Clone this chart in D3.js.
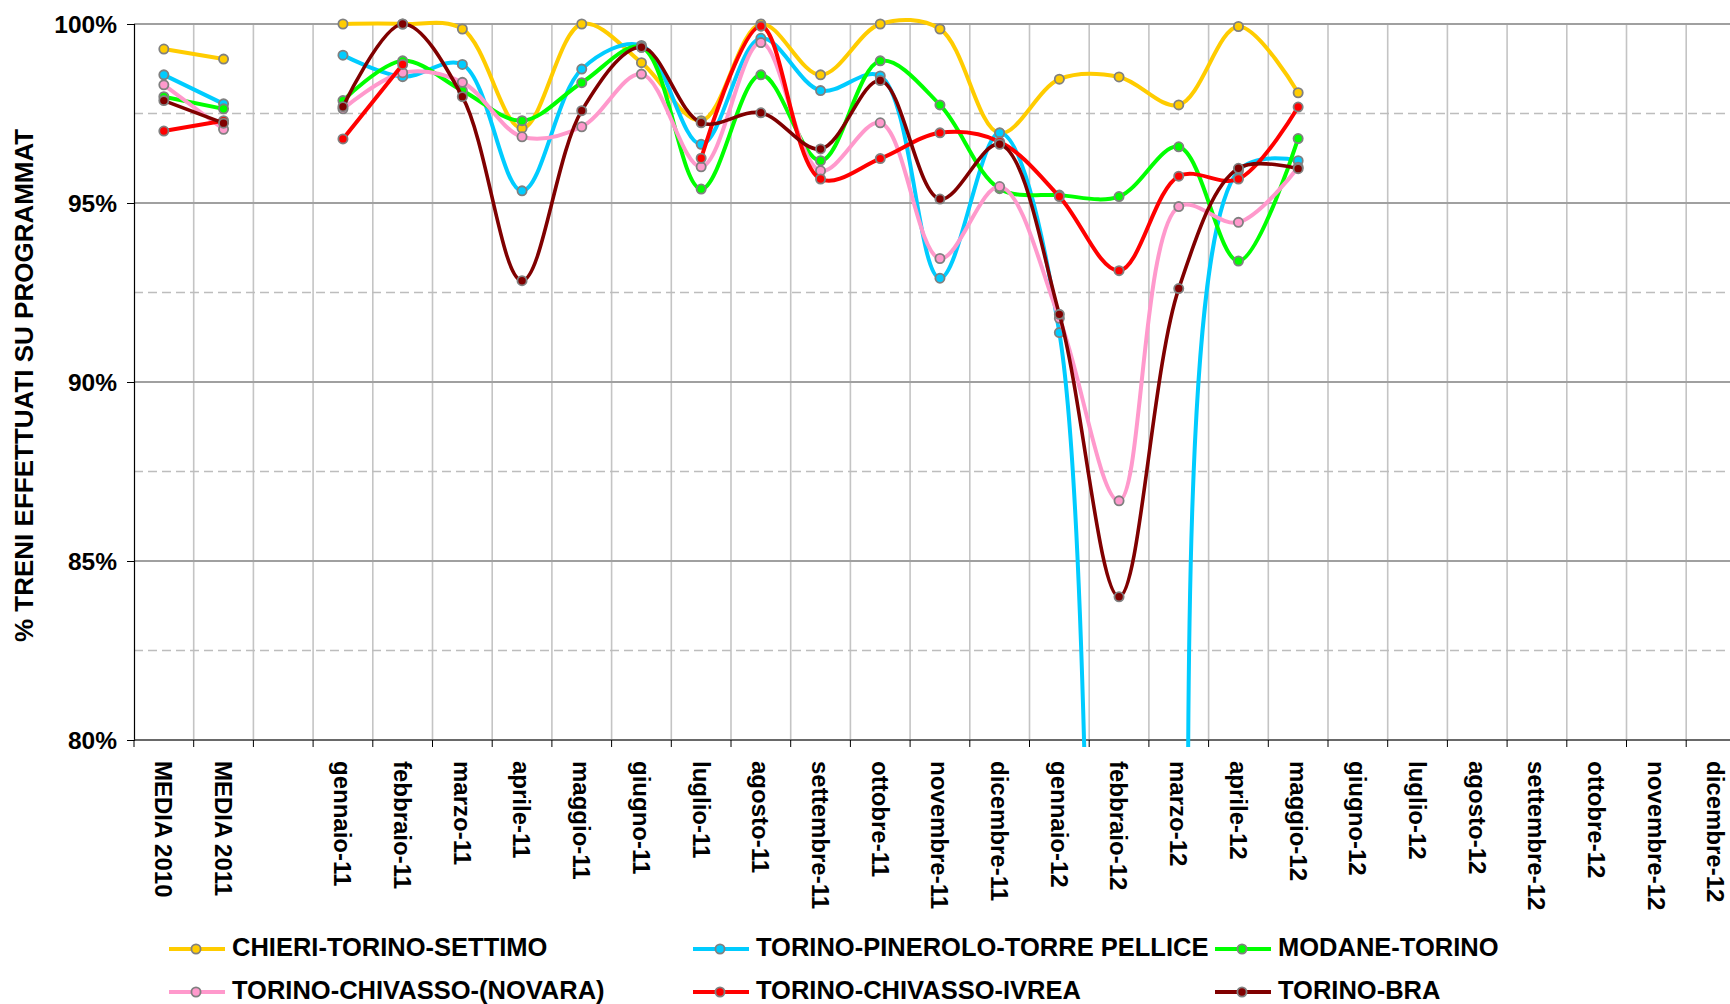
<!DOCTYPE html>
<html>
<head>
<meta charset="utf-8">
<script src="https://cdn.jsdelivr.net/npm/d3@7"></script>
<style>
  html, body { margin: 0; padding: 0; background: #ffffff; }
  svg { display: block; font-family: "Liberation Sans", Arial, sans-serif; }
</style>
</head>
<body>
<svg id="chart" width="1730" height="1004"></svg>
<script>
// ---------- DATA ----------
const categories = ["MEDIA 2010", "MEDIA 2011", "",
  "gennaio-11", "febbraio-11", "marzo-11", "aprile-11", "maggio-11", "giugno-11",
  "luglio-11", "agosto-11", "settembre-11", "ottobre-11", "novembre-11", "dicembre-11",
  "gennaio-12", "febbraio-12", "marzo-12", "aprile-12", "maggio-12", "giugno-12",
  "luglio-12", "agosto-12", "settembre-12", "ottobre-12", "novembre-12", "dicembre-12"];

const seriesNames = ["CHIERI-TORINO-SETTIMO", "TORINO-PINEROLO-TORRE PELLICE", "MODANE-TORINO",
  "TORINO-CHIVASSO-(NOVARA)", "TORINO-CHIVASSO-IVREA", "TORINO-BRA"];

const chieri = [99.30, 99.02, null, 100.0, 100.0, 99.86, 97.09, 100.0, 98.92, 97.30, 100.0, 98.58, 100.0, 99.86, 96.95, 98.46, 98.52, 97.74, 99.93, 98.08, null, null, null, null, null, null, null];
const pinerolo = [98.58, 97.77, null, 99.13, 98.53, 98.87, 95.34, 98.74, 99.40, 96.64, 99.60, 98.14, 98.55, 92.90, 96.96, 91.38, 40.0, 50.0, 95.9, 96.18, null, null, null, null, null, null, null];
const modane = [97.97, 97.63, null, 97.86, 98.97, 98.14, 97.30, 98.36, 99.35, 95.39, 98.58, 96.18, 98.97, 97.74, 95.40, 95.22, 95.18, 96.57, 93.38, 96.80, null, null, null, null, null, null, null];
const novara = [98.30, 97.06, null, 97.63, 98.64, 98.37, 96.85, 97.13, 98.60, 96.01, 99.48, 95.90, 97.24, 93.45, 95.46, 91.78, 86.68, 94.90, 94.46, 96.00, null, null, null, null, null, null, null];
const ivrea = [97.01, 97.30, null, 96.79, 98.87, null, null, null, null, 96.25, 99.94, 95.67, 96.24, 96.96, 96.71, 95.18, 93.11, 95.75, 95.67, 97.68, null, null, null, null, null, null, null];
const bra = [97.86, 97.23, null, 97.69, 100.0, 97.97, 92.83, 97.58, 99.35, 97.24, 97.52, 96.51, 98.42, 95.11, 96.64, 91.89, 84.0, 92.61, 95.97, 95.96, null, null, null, null, null, null, null];

const seriesValues = [chieri, pinerolo, modane, novara, ivrea, bra];
const seriesColors = ["#FFCC00", "#00CCFF", "#00FF00", "#FF99CC", "#FF0000", "#800000"];

const yMajorTicks = [80, 85, 90, 95, 100];
const yMinorTicks = [82.5, 87.5, 92.5, 97.5];
const yTitle = "% TRENI EFFETTUATI SU PROGRAMMAT";

// ---------- LAYOUT ----------
const svg = d3.select("#chart");
const plotLeft = 134, plotTop = 24, plotBottom = 740, step = 59.7;

const x = d3.scaleBand().domain(categories)
  .range([plotLeft, plotLeft + categories.length * step]).paddingInner(0).paddingOuter(0);
const y = d3.scaleLinear().domain([80, 100]).range([plotBottom, plotTop]);
const cx = c => x(c) + x.bandwidth() / 2;

// clip
svg.append("defs").append("clipPath").attr("id", "plotClip")
  .append("rect").attr("x", plotLeft).attr("y", 8).attr("width", 1730 - plotLeft).attr("height", 747 - 8);

// vertical gridlines at category boundaries
const boundaries = categories.map(c => x(c) + x.bandwidth()).slice(0, categories.length - 1);
svg.append("g").selectAll("line").data(boundaries).join("line")
  .attr("x1", d => d).attr("x2", d => d).attr("y1", plotTop).attr("y2", plotBottom)
  .attr("stroke", "#c4c4c4").attr("stroke-width", 1.6);

// dashed minor horizontal
svg.append("g").selectAll("line").data(yMinorTicks).join("line")
  .attr("x1", plotLeft).attr("x2", 1730).attr("y1", d => y(d)).attr("y2", d => y(d))
  .attr("stroke", "#bdbdbd").attr("stroke-width", 1.3).attr("stroke-dasharray", "9,5");

// major horizontal
svg.append("g").selectAll("line").data(yMajorTicks).join("line")
  .attr("x1", plotLeft).attr("x2", 1730).attr("y1", d => y(d)).attr("y2", d => y(d))
  .attr("stroke", "#a0a0a0").attr("stroke-width", 2);

// Y axis
const yAxis = svg.append("g").attr("transform", `translate(${plotLeft},0)`)
  .call(d3.axisLeft(y).tickValues(yMajorTicks).tickFormat(d => d + "%").tickSize(7).tickPadding(10));
yAxis.select(".domain").attr("stroke", "#000").attr("stroke-width", 1.2);
yAxis.selectAll(".tick line").attr("stroke", "#000");
yAxis.selectAll(".tick text").attr("font-size", "24.5px").attr("font-weight", "bold")
  .attr("fill", "#000").attr("dy", "0.36em").attr("font-family", "Liberation Sans, Arial, sans-serif");

// X axis line + ticks
svg.append("line").attr("x1", plotLeft).attr("x2", 1730).attr("y1", plotBottom).attr("y2", plotBottom)
  .attr("stroke", "#333").attr("stroke-width", 1.2);
svg.append("g").selectAll("line").data([plotLeft].concat(boundaries)).join("line")
  .attr("x1", d => d).attr("x2", d => d).attr("y1", plotBottom).attr("y2", plotBottom + 7)
  .attr("stroke", "#000").attr("stroke-width", 1);

// X labels
const xAxis = svg.append("g").attr("transform", `translate(0,${plotBottom})`)
  .call(d3.axisBottom(x).tickSize(0).tickPadding(0));
xAxis.select(".domain").remove();
xAxis.selectAll(".tick text")
  .attr("transform", "translate(0,21) rotate(90)")
  .attr("text-anchor", "start").attr("x", 0).attr("y", 0).attr("dy", "0.36em")
  .attr("font-size", "24px").attr("font-weight", "bold").attr("fill", "#000")
  .attr("font-family", "Liberation Sans, Arial, sans-serif");

// Y title
svg.append("text").attr("transform", "translate(33,642) rotate(-90)")
  .attr("text-anchor", "start").attr("font-size", "26px").attr("font-weight", "bold")
  .attr("fill", "#000").text(yTitle);

// series lines
const line = d3.line()
  .defined(d => d.v != null)
  .x(d => cx(d.c)).y(d => y(d.v))
  .curve(d3.curveCatmullRom.alpha(0.5));

const plot = svg.append("g");
seriesValues.forEach((vals, si) => {
  const pts = categories.map((c, i) => ({ c: c, v: vals[i] }));
  const g = plot.append("g");
  g.append("path").attr("clip-path", "url(#plotClip)")
    .attr("d", line(pts)).attr("fill", "none")
    .attr("stroke", seriesColors[si]).attr("stroke-width", si === 5 ? 3.6 : 4)
    .attr("stroke-linejoin", "round");
  g.selectAll("circle").data(pts.filter(d => d.v != null && d.v >= 80 && d.v <= 100)).join("circle")
    .attr("cx", d => cx(d.c)).attr("cy", d => y(d.v)).attr("r", 4.6)
    .attr("fill", seriesColors[si]).attr("stroke", "#808080").attr("stroke-width", 1.8);
});

// legend
const legendCols = [169, 693, 1215];
const legendRows = [949, 992];
const legend = svg.append("g");
seriesNames.forEach((name, i) => {
  const lx = legendCols[i % 3], ly = legendRows[Math.floor(i / 3)];
  const g = legend.append("g");
  g.append("line").attr("x1", lx).attr("x2", lx + 56).attr("y1", ly).attr("y2", ly)
    .attr("stroke", seriesColors[i]).attr("stroke-width", 4);
  g.append("circle").attr("cx", lx + 27).attr("cy", ly).attr("r", 4.6)
    .attr("fill", seriesColors[i]).attr("stroke", "#808080").attr("stroke-width", 1.8);
  g.append("text").attr("x", lx + 63).attr("y", ly + 7)
    .attr("font-size", "25.5px").attr("font-weight", "bold").attr("fill", "#000").text(name);
});
</script>
</body>
</html>
